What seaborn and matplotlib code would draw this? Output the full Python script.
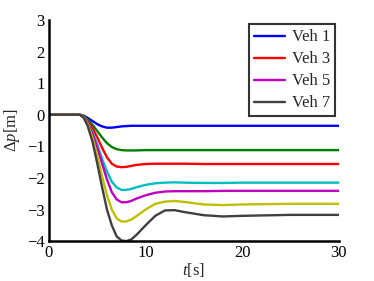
import numpy as np
import pandas as pd
import matplotlib
matplotlib.use("Agg")
import matplotlib.pyplot as plt
import seaborn as sns

# ---- data ----
t = [0, 3.2, 3.6, 4, 4.5, 5, 5.5, 6, 6.5, 7, 7.5, 8, 8.5, 9, 10, 11, 12, 13, 14, 16, 18, 20, 25, 30]
veh1 = [0, 0, -0.03, -0.10, -0.20, -0.30, -0.37, -0.41, -0.41, -0.39, -0.37, -0.36, -0.35, -0.35, -0.35, -0.35, -0.35, -0.35, -0.35, -0.35, -0.35, -0.35, -0.35, -0.35]
veh2 = [0, 0, -0.05, -0.15, -0.32, -0.52, -0.72, -0.90, -1.02, -1.09, -1.12, -1.13, -1.13, -1.13, -1.12, -1.12, -1.12, -1.12, -1.12, -1.12, -1.12, -1.12, -1.12, -1.12]
veh3 = [0, 0, -0.06, -0.20, -0.42, -0.72, -1.05, -1.35, -1.55, -1.64, -1.66, -1.65, -1.62, -1.59, -1.56, -1.55, -1.55, -1.55, -1.55, -1.56, -1.56, -1.56, -1.56, -1.56]
veh4 = [0, 0, -0.07, -0.25, -0.55, -0.95, -1.40, -1.80, -2.12, -2.30, -2.38, -2.38, -2.35, -2.30, -2.22, -2.17, -2.15, -2.14, -2.15, -2.16, -2.16, -2.15, -2.15, -2.15]
veh5 = [0, 0, -0.08, -0.27, -0.60, -1.05, -1.55, -2.05, -2.45, -2.68, -2.77, -2.77, -2.73, -2.66, -2.55, -2.47, -2.43, -2.42, -2.42, -2.42, -2.41, -2.41, -2.41, -2.41]
veh6 = [0, 0, -0.09, -0.30, -0.72, -1.30, -1.95, -2.55, -3.00, -3.28, -3.38, -3.38, -3.32, -3.22, -3.00, -2.82, -2.75, -2.73, -2.76, -2.84, -2.86, -2.84, -2.82, -2.82]
veh7 = [0, 0, -0.10, -0.35, -0.85, -1.55, -2.30, -3.00, -3.50, -3.85, -3.98, -4.00, -3.95, -3.82, -3.50, -3.20, -3.03, -3.02, -3.08, -3.18, -3.22, -3.20, -3.17, -3.17]
names = ["Veh 1", "Veh 2", "Veh 3", "Veh 4", "Veh 5", "Veh 6", "Veh 7"]
series = [veh1, veh2, veh3, veh4, veh5, veh6, veh7]
legend_names = ["Veh 1", "Veh 3", "Veh 5", "Veh 7"]
xticks = [0, 10, 20, 30]
yticks = [-4, -3, -2, -1, 0, 1, 2, 3]

colors = ["#0000ff", "#007f00", "#ff0000", "#00bfbf", "#bf00bf", "#bfbf00", "#404040"]

df = pd.concat([pd.DataFrame({"t": t, "dp": s, "veh": n}) for n, s in zip(names, series)],
               ignore_index=True)

sns.set_style("white")
plt.rcParams["font.family"] = ["Liberation Serif", "DejaVu Serif"]
plt.rcParams["mathtext.fontset"] = "custom"
plt.rcParams["mathtext.rm"] = "Liberation Serif"
plt.rcParams["mathtext.it"] = "Liberation Serif:italic"
plt.rcParams["axes.unicode_minus"] = True

fig = plt.figure(figsize=(3.74, 2.81), dpi=100)
ax = fig.add_axes([0.131, 0.142, 0.775, 0.787])

sns.lineplot(data=df, x="t", y="dp", hue="veh", palette=colors, linewidth=1.7,
             legend=False, ax=ax, estimator=None, sort=False)

ax.set_xlim(0, 30)
ax.set_ylim(-4, 3)
ax.set_xticks(xticks)
ax.set_yticks(yticks)
ax.tick_params(direction="in", length=3, width=1.5, labelsize=12, pad=3, colors="black")
for s in ["top", "right"]:
    ax.spines[s].set_visible(False)
for s in ["left", "bottom"]:
    ax.spines[s].set_linewidth(1.8)
    ax.spines[s].set_color("black")
ax.set_xlabel("$t$[s]", fontsize=12, labelpad=0)
ax.set_ylabel(r"$\Delta p$[m]", fontsize=12, labelpad=4)

lines = ax.get_lines()
handles = [lines[names.index(n)] for n in legend_names]
leg = ax.legend(handles, legend_names, loc="upper right", bbox_to_anchor=(0.998, 0.995),
                fontsize=12, frameon=True, fancybox=False, handlelength=1.85,
                handletextpad=0.4, borderpad=0.3, labelspacing=0.36, borderaxespad=0.2)
leg.get_frame().set_edgecolor("black")
leg.get_frame().set_linewidth(1.5)

fig.savefig("out.png", dpi=100)
